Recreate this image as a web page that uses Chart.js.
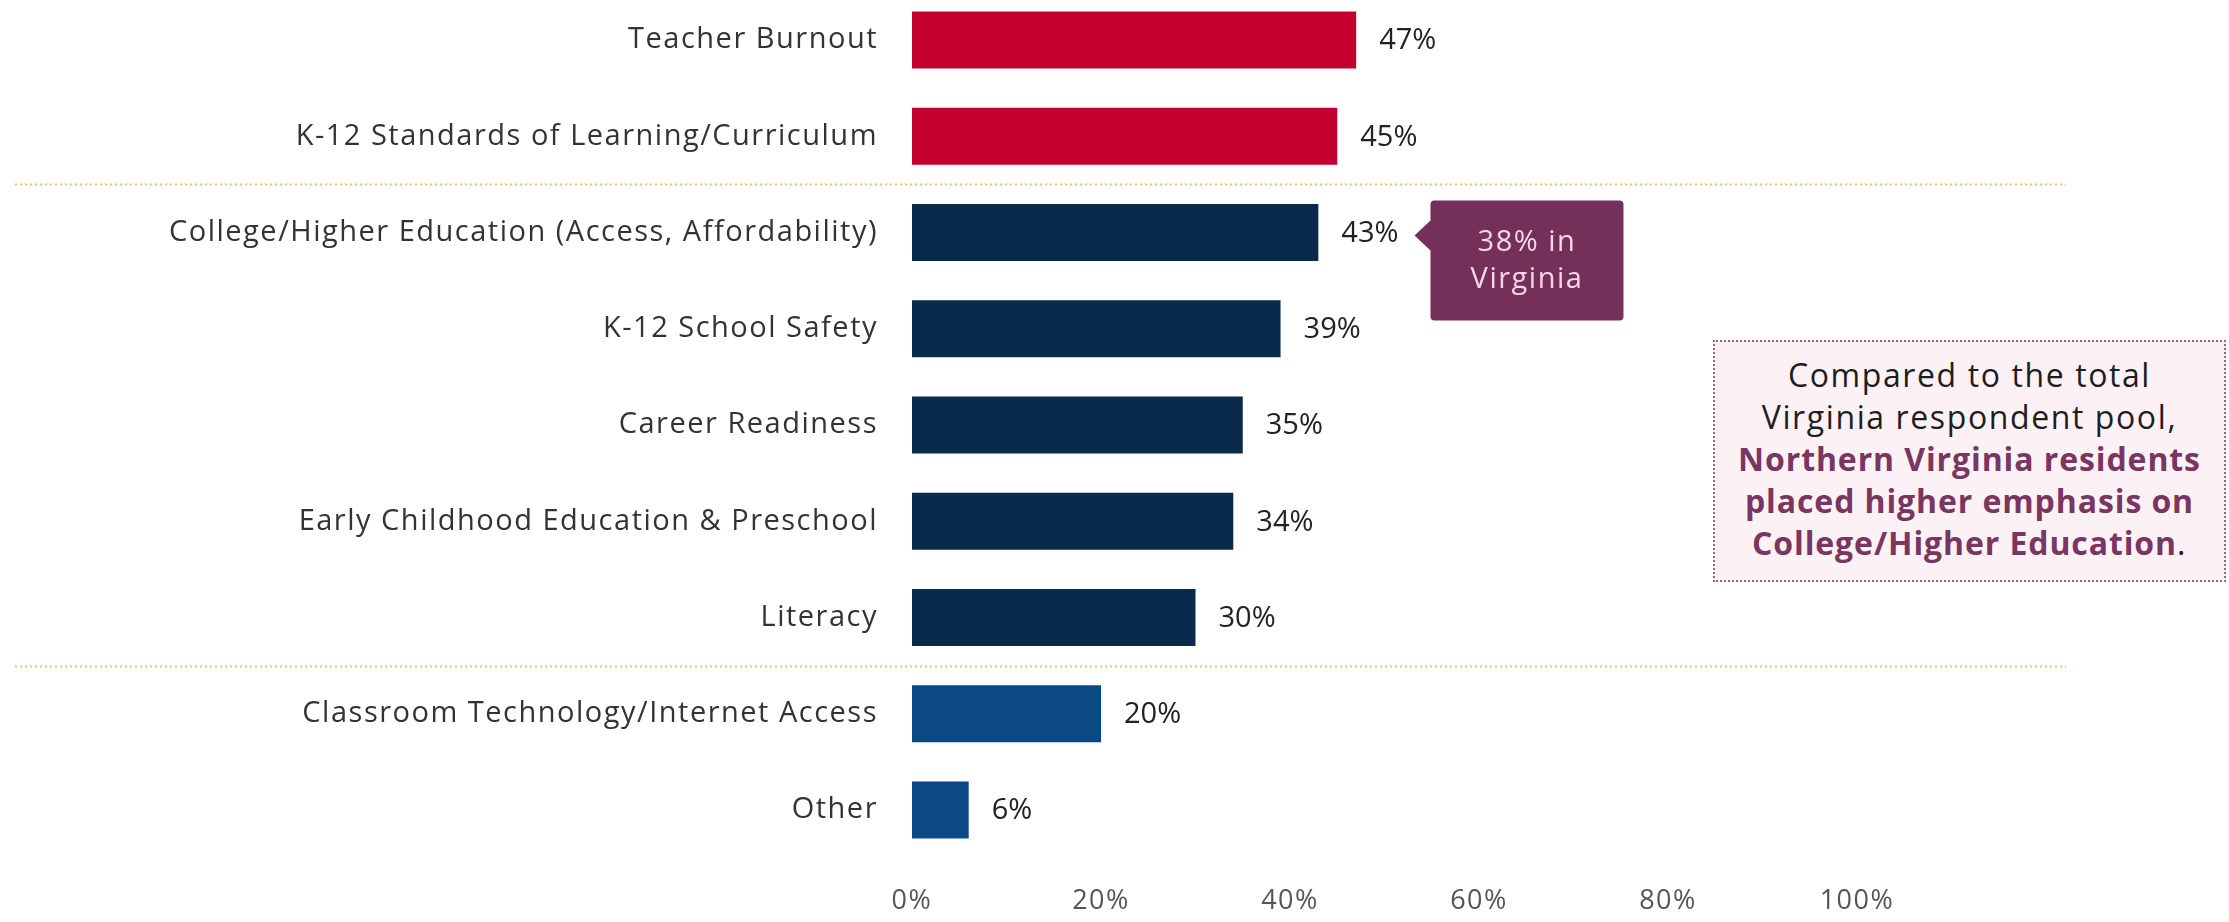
<!DOCTYPE html>
<html>
<head>
<meta charset="utf-8">
<script src="https://cdn.jsdelivr.net/npm/chart.js@4/dist/chart.umd.min.js"></script>
<style>
html,body{margin:0;padding:0;background:#fff;}
#wrap{position:relative;width:2229px;height:922px;}
#note{position:absolute;left:1713px;top:340px;width:513px;height:242px;box-sizing:border-box;
  border:2px dotted #8a6d80;background:#fcf2f5;text-align:center;
  font-family:"Open Sans",sans-serif;font-size:32px;line-height:42px;color:#1e1e1e;padding-top:12px;letter-spacing:1.6px;}
#note b{color:#7a3560;letter-spacing:0.9px;}
</style>
</head>
<body>
<div id="wrap">
  <canvas id="myChart" width="2229" height="922"></canvas>
  <div id="note">Compared to the total<br>Virginia respondent pool,<br><b>Northern Virginia residents<br>placed higher emphasis on<br>College/Higher Education</b>.</div>
</div>
<script>
var labels = ['Teacher Burnout', 'K-12 Standards of Learning/Curriculum', 'College/Higher Education (Access, Affordability)',
  'K-12 School Safety', 'Career Readiness', 'Early Childhood Education & Preschool', 'Literacy',
  'Classroom Technology/Internet Access', 'Other'];
var values = [47, 45, 43, 39, 35, 34, 30, 20, 6];
var groups = [0, 0, 1, 1, 1, 1, 1, 2, 2];
var groupColors = ['#c3002f', '#0a2a4b', '#0b4985'];
var xTicks = [0, 20, 40, 60, 80, 100];
var virginiaValues = [null, null, 38, null, null, null, null, null, null];
var compareRegion = 'Virginia';

Chart.defaults.font.family = '"Open Sans", sans-serif';

// wider tracking for the axis text, like the original typeface
var spacing = {
  id: 'spacing',
  beforeDraw: function(chart){ chart.ctx.letterSpacing = '1.5px'; },
  beforeDatasetsDraw: function(chart){ chart.ctx.letterSpacing = '0px'; }
};

// value labels, separators and the callout
var extras = {
  id: 'extras',
  afterDatasetsDraw: function(chart){
    var ctx = chart.ctx;
    var meta = chart.getDatasetMeta(0);
    var y = chart.scales.y;
    ctx.save();
    // dotted lines between groups
    ctx.strokeStyle = '#f0c06a';
    ctx.lineWidth = 2;
    ctx.setLineDash([2, 3]);
    for (var g = 1; g < groups.length; g++){
      if (groups[g] !== groups[g-1]){
        var py = Math.round(y.getPixelForValue(g - 0.5)) + 0.5;
        ctx.beginPath();
        ctx.moveTo(15, py);
        ctx.lineTo(2066, py);
        ctx.stroke();
      }
    }
    ctx.setLineDash([]);
    ctx.textBaseline = 'middle';
    meta.data.forEach(function(bar, i){
      var txt = values[i] + '%';
      ctx.letterSpacing = '0px';
      ctx.font = '29px "Open Sans", sans-serif';
      ctx.fillStyle = '#222';
      ctx.textAlign = 'left';
      ctx.fillText(txt, bar.x + 23, bar.y + 1);
      if (virginiaValues[i] != null){
        var end = bar.x + 23 + ctx.measureText(txt).width;
        var tip = end + 16;
        var bx = tip + 16, by = bar.y - 32, bw = 193, bh = 120;
        ctx.fillStyle = '#75305a';
        ctx.beginPath();
        ctx.moveTo(bx + 4, by);
        ctx.lineTo(bx + bw - 4, by);
        ctx.quadraticCurveTo(bx + bw, by, bx + bw, by + 4);
        ctx.lineTo(bx + bw, by + bh - 4);
        ctx.quadraticCurveTo(bx + bw, by + bh, bx + bw - 4, by + bh);
        ctx.lineTo(bx + 4, by + bh);
        ctx.quadraticCurveTo(bx, by + bh, bx, by + bh - 4);
        ctx.lineTo(bx, bar.y + 18);
        ctx.lineTo(tip, bar.y + 3);
        ctx.lineTo(bx, bar.y - 12);
        ctx.lineTo(bx, by + 4);
        ctx.quadraticCurveTo(bx, by, bx + 4, by);
        ctx.fill();
        ctx.fillStyle = '#f6d6e6';
        ctx.textAlign = 'center';
        ctx.letterSpacing = '1.5px';
        ctx.font = '29px "Open Sans", sans-serif';
        ctx.fillText(virginiaValues[i] + '% in', bx + bw / 2, by + bh / 2 - 18);
        ctx.fillText(compareRegion, bx + bw / 2, by + bh / 2 + 19);
        ctx.letterSpacing = '0px';
      }
    });
    ctx.restore();
  }
};

var ctx = document.getElementById('myChart').getContext('2d');
var chart = new Chart(ctx, {
  type: 'bar',
  data: {
    labels: labels,
    datasets: [{
      data: values,
      backgroundColor: groups.map(function(g){ return groupColors[g]; }),
      categoryPercentage: 1,
      barPercentage: 0.59,
      clip: false
    }]
  },
  options: {
    indexAxis: 'y',
    responsive: false,
    animation: false,
    layout: {padding: {top: 40, right: 372, bottom: 0, left: 0}},
    plugins: {legend: {display: false}, tooltip: {enabled: false}},
    scales: {
      x: {
        min: 0, max: 100,
        afterBuildTicks: function(s){ s.ticks = xTicks.map(function(v){ return {value: v}; }); },
        afterFit: function(s){ s.height = 112; },
        grid: {display: false},
        border: {display: false},
        ticks: {padding: 67, color: '#555', font: {size: 27}, callback: function(v){ return v + '%'; }}
      },
      y: {
        offset: false,
        afterFit: function(s){ s.width = 912; s.paddingTop = 0; s.paddingBottom = 0; },
        grid: {display: false},
        border: {display: false},
        ticks: {padding: 26, color: '#333', font: {size: 29}}
      }
    }
  },
  plugins: [spacing, extras]
});
</script>
</body>
</html>
